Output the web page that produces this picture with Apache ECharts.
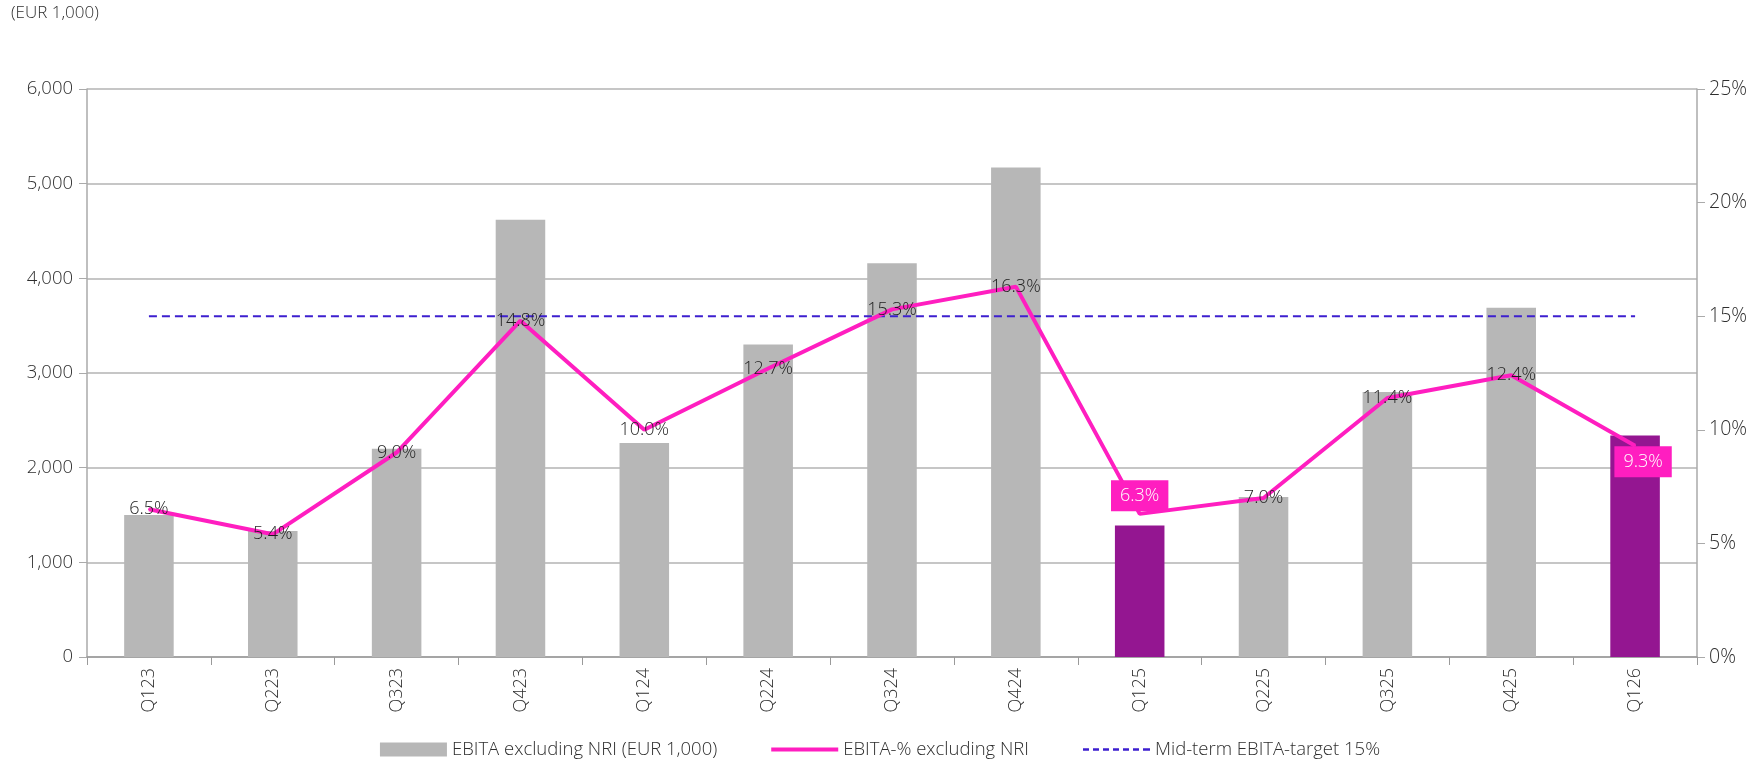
<!DOCTYPE html>
<html>
<head>
<meta charset="utf-8">
<script src="https://cdn.jsdelivr.net/npm/echarts@6/dist/echarts.min.js"></script>
<style>
  html, body { margin: 0; padding: 0; background: #fff; }
  #chart { width: 1760px; height: 764px; }
</style>
</head>
<body>
<div id="chart"></div>
<script>
const quarters = ["Q123", "Q223", "Q323", "Q423", "Q124", "Q224", "Q324", "Q424", "Q125", "Q225", "Q325", "Q425", "Q126"];
const ebita = [1500, 1330, 2200, 4620, 2260, 3300, 4160, 5170, 1390, 1690, 2800, 3690, 2340];
const ebitaPct = [6.5, 5.4, 9.0, 14.8, 10.0, 12.7, 15.3, 16.3, 6.3, 7.0, 11.4, 12.4, 9.3];
const target = [15, 15, 15, 15, 15, 15, 15, 15, 15, 15, 15, 15, 15];
const highlighted = ["Q125", "Q126"];
const leftTicks = [0, 6000, 1000];
const rightTicks = [0, 25, 5];

const grey = "#b7b7b7";
const purple = "#941691";
const pink = "#ff1ec0";
const violet = "#3d1fcf";
const textColor = "#2e2e2e";
const font = "'Open Sans', 'Noto Sans', sans-serif";

const myChart = echarts.init(document.getElementById("chart"));

const barData = ebita.map((v, i) => {
  if (highlighted.includes(quarters[i])) {
    return { value: v, itemStyle: { color: purple } };
  }
  return v;
});

// highlighted points get a pink box label
const lineData = ebitaPct.map((v, i) => {
  if (quarters[i] === "Q125") {
    return {
      value: v,
      label: {
        color: "#fff", backgroundColor: pink, padding: [7, 9, 6, 9],
        position: "inside", offset: [0, -18]
      }
    };
  }
  if (quarters[i] === "Q126") {
    return {
      value: v,
      label: {
        color: "#fff", backgroundColor: pink, padding: [7, 9, 6, 9],
        position: "inside", offset: [8, 16]
      }
    };
  }
  return v;
});

const option = {
  animation: false,
  textStyle: { fontFamily: font },
  graphic: [
    {
      type: "text", left: 11, top: 5,
      style: { text: "(EUR 1,000)", fontSize: 17, fontWeight: 300, fill: textColor, fontFamily: font }
    }
  ],
  grid: { left: 87, right: 63, top: 89, bottom: 107 },
  legend: {
    bottom: 0,
    left: "center",
    itemWidth: 67,
    itemHeight: 14,
    itemGap: 54,
    textStyle: { fontSize: 18.5, fontWeight: 300, color: textColor, fontFamily: font },
    data: [
      { name: "EBITA excluding NRI (EUR 1,000)", icon: "rect" },
      { name: "EBITA-% excluding NRI", icon: "path://M0,0H67V4H0Z" },
      { name: "Mid-term EBITA-target 15%", icon: "path://M0,0H6V2.4H0Z M10,0H16V2.4H10Z M20,0H26V2.4H20Z M30,0H36V2.4H30Z M40,0H46V2.4H40Z M50,0H56V2.4H50Z M60,0H67V2.4H60Z" }
    ]
  },
  xAxis: {
    type: "category",
    data: quarters,
    axisLine: { lineStyle: { color: "#9a9a9a", width: 1.5 } },
    axisTick: { show: true, length: 8, lineStyle: { color: "#9a9a9a" } },
    axisLabel: { rotate: 90, fontSize: 18, fontWeight: 300, color: textColor, margin: 11 }
  },
  yAxis: [
    {
      type: "value",
      min: leftTicks[0], max: leftTicks[1], interval: leftTicks[2],
      axisLine: { show: true, lineStyle: { color: "#aaaaaa", width: 1.5 } },
      axisTick: { show: true, length: 8, lineStyle: { color: "#aaaaaa" } },
      splitLine: { lineStyle: { color: "#b3b3b3", width: 1.5 } },
      axisLabel: {
        fontSize: 18.5, fontWeight: 300, color: textColor, margin: 14,
        formatter: v => v.toLocaleString("en-US")
      }
    },
    {
      type: "value",
      min: rightTicks[0], max: rightTicks[1], interval: rightTicks[2],
      axisLine: { show: true, lineStyle: { color: "#aaaaaa", width: 1.5 } },
      axisTick: { show: true, length: 8, lineStyle: { color: "#aaaaaa" } },
      splitLine: { show: false },
      axisLabel: { fontSize: 19.5, fontWeight: 300, color: textColor, margin: 12, formatter: "{value}%" }
    }
  ],
  series: [
    {
      name: "EBITA excluding NRI (EUR 1,000)",
      type: "bar",
      data: barData,
      barWidth: "40%",
      itemStyle: { color: grey }
    },
    {
      name: "EBITA-% excluding NRI",
      type: "line",
      yAxisIndex: 1,
      data: lineData,
      symbol: "circle",
      symbolSize: 2,
      itemStyle: { color: pink },
      lineStyle: { color: pink, width: 4 },
      label: {
        show: true,
        position: "inside",
        fontSize: 18,
        fontWeight: 300,
        color: "#1e1e1e",
        fontFamily: font,
        formatter: p => p.value.toFixed(1) + "%"
      },
      z: 5
    },
    {
      name: "Mid-term EBITA-target 15%",
      type: "line",
      yAxisIndex: 1,
      data: target,
      symbol: "none",
      itemStyle: { color: violet },
      lineStyle: { color: violet, width: 2, type: [8, 5] },
      z: 4
    }
  ]
};

myChart.setOption(option);
window.onresize = function () {
  myChart.resize();
};
</script>
</body>
</html>
